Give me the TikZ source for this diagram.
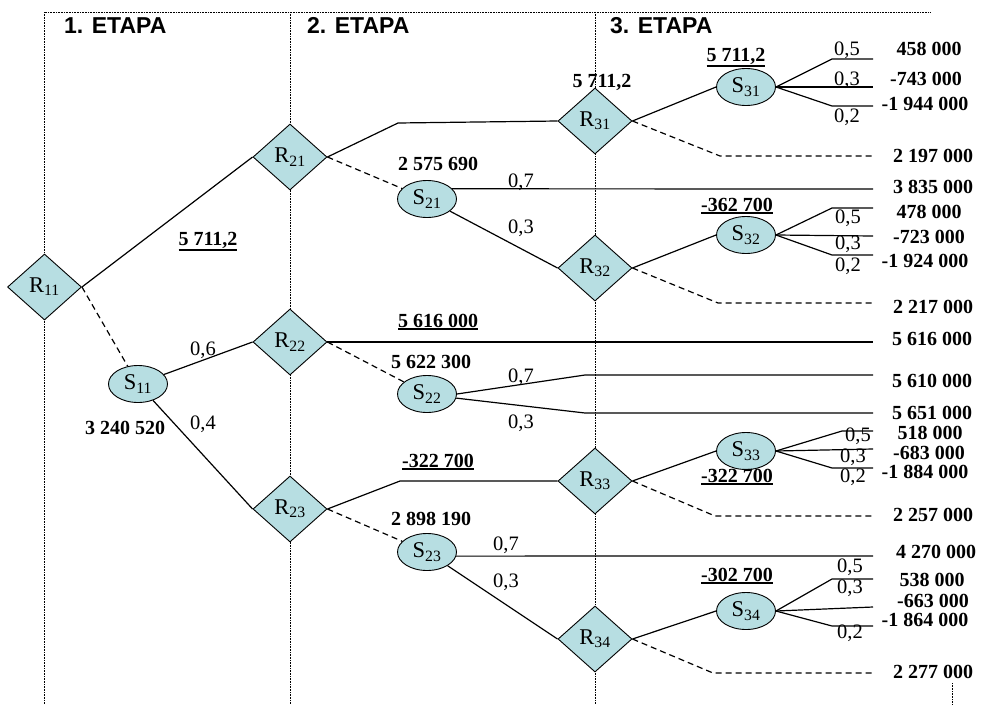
\documentclass[tikz,border=0pt]{standalone}
\usepackage{fontspec}
\setmainfont{Liberation Serif}
\newfontfamily\hdrfont{Liberation Sans}
\usetikzlibrary{shapes.geometric}
\definecolor{nodefill}{RGB}{183,222,226}
% underlined value with a firm rule
\newcommand\ulval[1]{\vtop{\hbox{#1}\kern1.2pt\hrule height 1.3pt}}

\begin{document}
\begin{tikzpicture}[x=1pt,y=-1pt,
  dec/.style={diamond, draw, fill=nodefill, line width=0.9pt,
    minimum width=74pt, minimum height=66pt, inner sep=0pt,
    font=\fontsize{22.5}{22.5}\selectfont},
  chance/.style={ellipse, draw, fill=nodefill, line width=0.9pt,
    minimum width=59pt, minimum height=37pt, inner sep=0pt,
    font=\fontsize{22.5}{22.5}\selectfont},
  conn/.style={line width=1.2pt},
  rej/.style={line width=1.2pt, dash pattern=on 6pt off 4pt},
  gridline/.style={line width=0.9pt, dash pattern=on 0.8pt off 0.8pt},
  val/.style={anchor=base, inner sep=0pt, font=\fontsize{20}{20}\selectfont\bfseries},
  prob/.style={anchor=base, inner sep=0pt, font=\fontsize{20.5}{20.5}\selectfont},
  hdr/.style={anchor=base west, inner sep=0pt, font=\hdrfont\fontsize{23}{23}\selectfont\bfseries},
]
\useasboundingbox (0,0) rectangle (984,704);

% stage frame
\draw[gridline] (44,704) -- (44,12) -- (930,12);
\draw[gridline] (290,12) -- (290,704);
\draw[gridline] (595,12) -- (595,704);
\draw[gridline] (952,683) -- (952,704);

\node[hdr] (h1) at (64,33) {1. ETAPA};
\node[hdr] (h2) at (307,33) {2. ETAPA};
\node[hdr] (h3) at (610,33) {3. ETAPA};

% decision and chance nodes
\node[dec] (R11) at (44.5,287) {R\textsubscript{11}};
\node[chance] (S11) at (138,384) {S\textsubscript{11}};
\node[dec] (R21) at (290,157) {R\textsubscript{21}};
\node[dec] (R22) at (290,342) {R\textsubscript{22}};
\node[dec] (R23) at (290,509) {R\textsubscript{23}};
\node[chance] (S21) at (427,199) {S\textsubscript{21}};
\node[chance] (S22) at (427,394) {S\textsubscript{22}};
\node[chance] (S23) at (427,552) {S\textsubscript{23}};
\node[dec] (R31) at (595,121) {R\textsubscript{31}};
\node[dec] (R32) at (595,268) {R\textsubscript{32}};
\node[dec] (R33) at (595,481) {R\textsubscript{33}};
\node[dec] (R34) at (595,639) {R\textsubscript{34}};
\node[chance] (S31) at (746,87) {S\textsubscript{31}};
\node[chance] (S32) at (746,235) {S\textsubscript{32}};
\node[chance] (S33) at (746,451) {S\textsubscript{33}};
\node[chance] (S34) at (746,611) {S\textsubscript{34}};

% bends and free ends
\coordinate (b21) at (398,123);
\coordinate (b23) at (400,481);
\coordinate (b22u) at (585,375);
\coordinate (b22d) at (585,413);
\coordinate (e21) at (873,189);
\coordinate (e22) at (873,342);
\coordinate (e22u) at (873,375);
\coordinate (e22d) at (873,413);
\coordinate (e23) at (873,556);
\coordinate (d31) at (720,156); \coordinate (f31) at (873,156);
\coordinate (d32) at (718,303); \coordinate (f32) at (873,303);
\coordinate (d33) at (715,516); \coordinate (f33) at (873,516);
\coordinate (d34) at (713,673); \coordinate (f34) at (873,673);
\coordinate (a31) at (832,59);  \coordinate (g31a) at (873,59);
\coordinate (g31b) at (873,87);
\coordinate (c31) at (832,106); \coordinate (g31c) at (873,106);
\coordinate (a32) at (832,208); \coordinate (g32a) at (873,208);
\coordinate (g32b) at (873,236);
\coordinate (c32) at (832,255); \coordinate (g32c) at (873,255);
\coordinate (a33) at (842,431); \coordinate (g33a) at (873,431);
\coordinate (g33b) at (873,449);
\coordinate (c33) at (832,468); \coordinate (g33c) at (873,468);
\coordinate (a34) at (832,579); \coordinate (g34a) at (873,579);
\coordinate (g34b) at (873,607);
\coordinate (c34) at (832,626); \coordinate (g34c) at (873,626);

% stage 1
\draw[conn] (R11.east) -- (R21.west);
\draw[rej] (R11.east) -- (S11);
\draw[conn] (S11) -- (R22.west);
\draw[conn] (S11) -- (R23.west);

% stage 2
\draw[conn] (R21.east) -- (b21) -- (R31.west);
\draw[rej] (R21.east) -- (S21);
\draw[conn] (S21.22) -- (e21);
\draw[conn] (S21) -- (R32.west);
\draw[conn] (R22.east) -- (e22);
\draw[rej] (R22.east) -- (S22);
\draw[conn] (S22.east) -- (b22u) -- (e22u);
\draw[conn] (S22.-8) -- (b22d) -- (e22d);
\draw[conn] (R23.east) -- (b23) -- (R33.west);
\draw[rej] (R23.east) -- (S23);
\draw[conn] (S23.-8) -- (e23);
\draw[conn] (S23) -- (R34.west);

% stage 3
\draw[conn] (R31.east) -- (S31.west);
\draw[rej] (R31.east) -- (d31) -- (f31);
\draw[conn] (S31.east) -- (a31) -- (g31a);
\draw[conn] (S31.east) -- (g31b);
\draw[conn] (S31.east) -- (c31) -- (g31c);
\draw[conn] (R32.east) -- (S32.west);
\draw[rej] (R32.east) -- (d32) -- (f32);
\draw[conn] (S32.east) -- (a32) -- (g32a);
\draw[conn] (S32.east) -- (g32b);
\draw[conn] (S32.east) -- (c32) -- (g32c);
\draw[conn] (R33.east) -- (S33.west);
\draw[rej] (R33.east) -- (d33) -- (f33);
\draw[conn] (S33.east) -- (a33) -- (g33a);
\draw[conn] (S33.east) -- (g33b);
\draw[conn] (S33.east) -- (c33) -- (g33c);
\draw[conn] (R34.east) -- (S34.west);
\draw[rej] (R34.east) -- (d34) -- (f34);
\draw[conn] (S34.east) -- (a34) -- (g34a);
\draw[conn] (S34.east) -- (g34b);
\draw[conn] (S34.east) -- (c34) -- (g34c);

% expected values
\node[val] (u1) at (208,245) {\ulval{5 711,2}};
\node[val] (u2) at (438,327) {\ulval{5 616 000}};
\node[val] (u3) at (438,467) {\ulval{-322 700}};
\node[val] (u4) at (736,61) {\ulval{5 711,2}};
\node[val] (u5) at (737,211) {\ulval{-362 700}};
\node[val] (u6) at (737,482) {\ulval{-322 700}};
\node[val] (u7) at (737,581) {\ulval{-302 700}};
\node[val] (m1) at (125,434) {3 240 520};
\node[val] (m2) at (438,170) {2 575 690};
\node[val] (m3) at (431,368) {5 622 300};
\node[val] (m4) at (431,525) {2 898 190};
\node[val] (m5) at (602,87) {5 711,2};

% probabilities
\node[prob] (p1) at (203,355) {0,6};
\node[prob] (p2) at (203,429) {0,4};
\node[prob] (p3) at (521,187) {0,7};
\node[prob] (p4) at (521,233) {0,3};
\node[prob] (p5) at (521,382) {0,7};
\node[prob] (p6) at (521,428) {0,3};
\node[prob] (p7) at (506,550) {0,7};
\node[prob] (p8) at (506,587) {0,3};
\node[prob] (q1) at (847,55) {0,5};
\node[prob] (q2) at (847,85) {0,3};
\node[prob] (q3) at (847,122) {0,2};
\node[prob] (q4) at (848,223) {0,5};
\node[prob] (q5) at (848,249) {0,3};
\node[prob] (q6) at (848,271) {0,2};
\node[prob] (q7) at (858,441) {0,5};
\node[prob] (q8) at (853,462) {0,3};
\node[prob] (q9) at (853,482) {0,2};
\node[prob] (q10) at (850,572) {0,5};
\node[prob] (q11) at (850,593) {0,3};
\node[prob] (q12) at (850,638) {0,2};

% outcomes
\node[val] (v1) at (929,55) {458 000};
\node[val] (v2) at (926,85) {-743 000};
\node[val] (v3) at (925,110) {-1 944 000};
\node[val] (v4) at (933,162) {2 197 000};
\node[val] (v5) at (933,193) {3 835 000};
\node[val] (v6) at (929,218) {478 000};
\node[val] (v7) at (929,243) {-723 000};
\node[val] (v8) at (925,267) {-1 924 000};
\node[val] (v9) at (933,313) {2 217 000};
\node[val] (v10) at (932,345) {5 616 000};
\node[val] (v11) at (932,387) {5 610 000};
\node[val] (v12) at (932,419) {5 651 000};
\node[val] (v13) at (930,439) {518 000};
\node[val] (v14) at (929,459) {-683 000};
\node[val] (v15) at (925,478) {-1 884 000};
\node[val] (v16) at (933,521) {2 257 000};
\node[val] (v17) at (936,558) {4 270 000};
\node[val] (v18) at (932,586) {538 000};
\node[val] (v19) at (933,607) {-663 000};
\node[val] (v20) at (925,626) {-1 864 000};
\node[val] (v21) at (933,678) {2 277 000};
\end{tikzpicture}
\end{document}
